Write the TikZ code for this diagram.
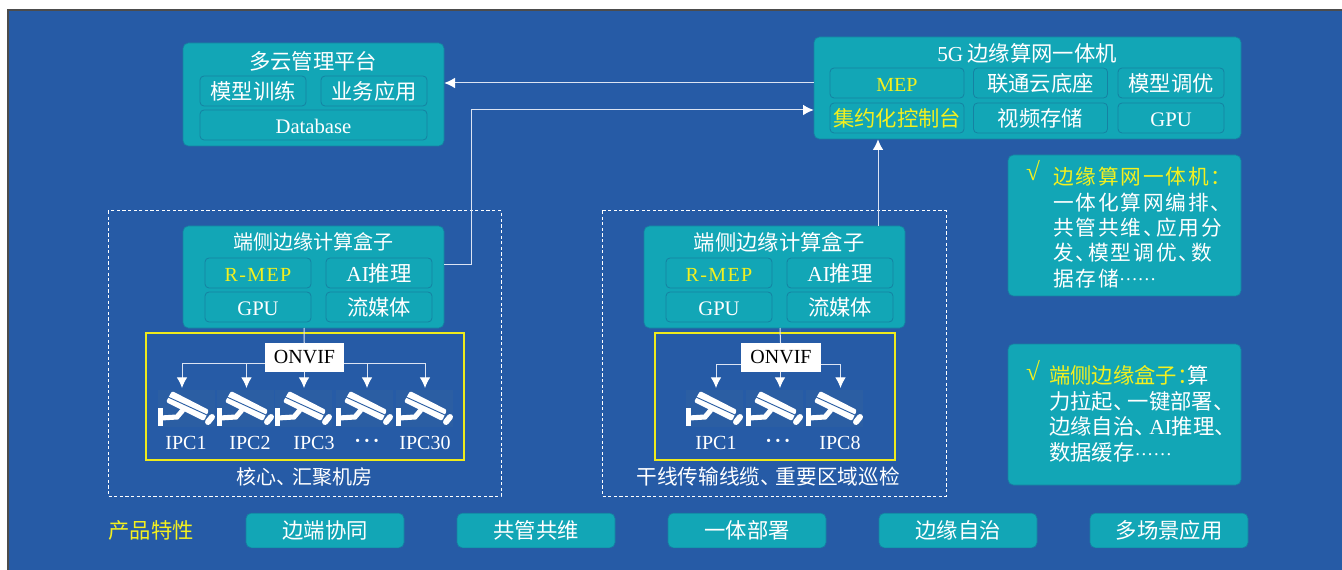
\documentclass[tikz,border=0pt]{standalone}
\usepackage{fontspec}
\setmainfont{Liberation Serif}
\newfontfamily\cjk{Noto Sans CJK SC}
\newfontfamily\cjkwide[LetterSpace=9]{Noto Sans CJK SC}
\newfontfamily\latwide[LetterSpace=7]{Liberation Serif}
\usetikzlibrary{
  arrows.meta
}
\definecolor{bgblue}{HTML}{265BA6}
\definecolor{camblue}{HTML}{2B5EA3}
\definecolor{boxteal}{HTML}{12A6B6}
\definecolor{edgeteal}{HTML}{1582A2}
\definecolor{marky}{HTML}{F4F01E}
\definecolor{framey}{HTML}{EEEA1C}
\definecolor{wireblue}{HTML}{DCE4F3}
\newcommand{\dun}[1][6pt]{、\kern-#1}
\newcommand{\sixdots}{\raisebox{4pt}{\rmfamily\fontsize{14}{16}\selectfont ……}}
\newcommand{\middots}{\textbf{·\kern2pt·\kern2pt·}}
\newcommand{\latin}{\rmfamily\fontsize{15.5}{18}\selectfont}
\tikzset{>={Latex[length=8pt,width=8pt,color=white]}}
\tikzset{
  panel/.style={draw=edgeteal,fill=boxteal,rounded corners=4pt,line width=0.5pt},
  subbox/.style={draw=edgeteal,rounded corners=3pt,line width=0.6pt,minimum height=22.5pt,inner sep=0pt,
    text=white,text height=15.5pt,text depth=2.5pt,font=\cjk\fontsize{16}{18}\selectfont},
  sub/.style={subbox,minimum width=79.5pt},
  subwide/.style={subbox,minimum width=100.5pt},
  title/.style={text=white,inner sep=0pt,font=\cjk\fontsize{16}{18}\selectfont},
  pill/.style={panel,text=white,minimum width=118.5pt,minimum height=26pt,inner sep=0pt,font=\cjk\fontsize{16}{18}\selectfont},
  wire/.style={draw=wireblue,line width=0.75pt,->},
  dashbox/.style={draw=white,line width=0.75pt,dash pattern=on 2.4pt off 1.8pt},
  camframe/.style={draw=framey,line width=1pt},
  onvifbox/.style={fill=white,text=black,minimum width=59.5pt,minimum height=21.5pt,inner sep=0pt,font=\rmfamily\fontsize{15}{17}\selectfont},
  iplabel/.style={text=white,inner sep=0pt,font=\rmfamily\fontsize{15}{17}\selectfont},
  note/.style={align=left,anchor=north west,inner sep=0pt,text=white},
  tick/.style={text=marky,inner sep=0pt,font=\rmfamily\fontsize{19}{20}\selectfont},
  ipccam/.pic={
    \fill[camblue] (0,0) rectangle (57,37);
    \fill[white,rounded corners=1.5pt] (14,1) -- (8,12) -- (46,31) -- (51,20) -- cycle;
    \draw[camblue,line width=0.7pt] (10,7) -- (49,25);
    \draw[white,line width=4.5pt,line cap=round] (50,32) -- (54,27);
    \fill[white] (0,18) rectangle (4.5,36);
    \draw[white,line width=3.8pt] (3,28) -- (19,27) -- (25,20);
  }
}

\begin{document}
\begin{tikzpicture}[x=0.75pt,y=-0.75pt]
\useasboundingbox (0,0) rectangle (1342,570);
\fill[white] (0,0) rectangle (1342,570);
\fill[bgblue] (8,10) rectangle (1342,570);
\draw[black!70,line width=0.9pt] (8,570) -- (8,10) -- (1342,10);

% top boxes
\node[panel,minimum width=195.75pt,minimum height=77.25pt,inner sep=0pt] (cloud) at (313.5,94.5) {};
\node[title] (cloudtitle) at (313,61) {多云管理平台};
\node[sub] (train) at (253,91) {模型训练};
\node[sub] (biz) at (374,91) {业务应用};
\node[subbox,minimum width=170.25pt] (db) at (313.5,125) {\latin Database};

\node[panel,minimum width=320.25pt,minimum height=76.5pt,inner sep=0pt] (fiveg) at (1027.5,88) {};
\node[title] (fivegtitle) at (1027,53) {{\rmfamily 5G\kern3pt}边缘算网一体机};
\node[subwide,text=marky] (mep) at (897,83) {\rmfamily\fontsize{15}{18}\selectfont MEP};
\node[subwide] (cloudbase) at (1040.5,83) {联通云底座};
\node[sub] (tune) at (1171,83) {模型调优};
\node[subwide,text=marky] (console) at (897,118) {集约化控制台};
\node[subwide] (video) at (1040.5,118) {视频存储};
\node[sub] (gpu) at (1171,118) {\latin GPU};

% notes
\node[panel,minimum width=174.75pt,minimum height=105.75pt] (noteone) at (1124.5,225.5) {};
\node[tick] (tickone) at (1033,171) {√};
\node[note,font=\cjkwide\fontsize{15.5}{19}\selectfont] (noteonetext) at (1053,167) {\textcolor{marky}{边缘算网一体机：}\\一体化算网编排、\\共管共维\dun 应用分\\发\dun 模型调优\dun 数\\据存储\sixdots};
\node[panel,minimum width=174.75pt,minimum height=105.75pt] (notetwo) at (1124.5,414.5) {};
\node[tick] (ticktwo) at (1033,371) {√};
\node[note,font=\cjk\fontsize{16}{19.3}\selectfont] (notetwotext) at (1049,365) {\textcolor{marky}{端侧边缘盒子：\kern-8pt}算\\力拉起\dun[5pt]一键部署、\\边缘自治\dun[5pt]{\rmfamily AI}推理、\\数据缓存\sixdots};

% left site
\draw[dashbox] (108,211) rectangle (501,496);
\node[panel,minimum width=195.75pt,minimum height=76.5pt,inner sep=0pt] (edgea) at (313.5,277) {};
\node[title,font=\cjk\fontsize{15}{18}\selectfont] (edgeatitle) at (313,242) {端侧边缘计算盒子};
\node[sub,text=marky] (rmepa) at (258,273) {\latwide\fontsize{15}{18}\selectfont R-MEP};
\node[sub] (aia) at (379,273) {{\rmfamily AI}推理};
\node[sub] (gpua) at (258,307) {\latin GPU};
\node[sub] (mediaa) at (379,307) {流媒体};
\draw[camframe] (146,333) rectangle (464,460);
\coordinate (busa) at (304,363);
\coordinate (topa) at (304,328);
\foreach \n/\cx/\tx/\lx/\ltxt in {1/158/182/186/IPC1,2/217/246.5/250/IPC2,3/275/304/314/IPC3,4/336/367/367/\middots,5/396/425/425/IPC30}{
  \pic at (\cx,390) {ipccam};
  \coordinate (tipa\n) at (\tx,388);
  \node[iplabel] (ipa\n) at (\lx,443) {\ltxt};
  \draw[wire] (busa) -| (tipa\n);
}
\node[onvifbox] (onvifa) at (304.5,357.5) {ONVIF};
\draw[wireblue,line width=0.75pt] (topa) -- (onvifa);
\node[title,font=\cjk\fontsize{15}{18}\selectfont] (sitea) at (304,477) {核心\dun[3pt]汇聚机房};

% right site
\draw[dashbox] (602,211) rectangle (946,496);
\node[panel,minimum width=195.75pt,minimum height=76.5pt,inner sep=0pt] (edgeb) at (774.5,277) {};
\node[title] (edgebtitle) at (779,242) {端侧边缘计算盒子};
\node[sub,text=marky] (rmepb) at (719,273) {\latwide\fontsize{15}{18}\selectfont R-MEP};
\node[sub] (aib) at (840,273) {{\rmfamily AI}推理};
\node[sub] (gpub) at (719,307) {\latin GPU};
\node[sub] (mediab) at (840,307) {流媒体};
\draw[camframe] (655,333) rectangle (895,460);
\coordinate (busb) at (780,364);
\coordinate (topb) at (780,328);
\foreach \n/\cx/\tx/\lx/\ltxt in {1/686/716/716/IPC1,2/746/780/778/\middots,3/806/840.5/840/IPC8}{
  \pic at (\cx,390) {ipccam};
  \coordinate (tipb\n) at (\tx,388);
  \node[iplabel] (ipb\n) at (\lx,443) {\ltxt};
  \draw[wire] (busb) -| (tipb\n);
}
\node[onvifbox] (onvifb) at (781,357.5) {ONVIF};
\draw[wireblue,line width=0.75pt] (topb) -- (onvifb);
\node[title,font=\cjk\fontsize{15.5}{18}\selectfont] (siteb) at (768,477) {干线传输线缆\dun[4pt]重要区域巡检};

% links
\draw[wire] (fiveg.west |- 0,83) -- (cloud.east |- 0,83);
\draw[wire] (edgea.east |- 0,265) -- (471,265) -- (471,110) -- (fiveg.west |- 0,110);
\draw[wire] (edgeb.north -| 878,0) -- (fiveg.south -| 878,0);

% bottom row
\node[text=marky,inner sep=0pt,font=\cjk\fontsize{16}{18}\selectfont] (feat) at (151,530) {产品特性};
\node[pill] (pilla) at (325,530.5) {边端协同};
\node[pill] (pillb) at (536,530.5) {共管共维};
\node[pill] (pillc) at (747,530.5) {一体部署};
\node[pill] (pilld) at (958,530.5) {边缘自治};
\node[pill] (pille) at (1169,530.5) {多场景应用};
\end{tikzpicture}
\end{document}
